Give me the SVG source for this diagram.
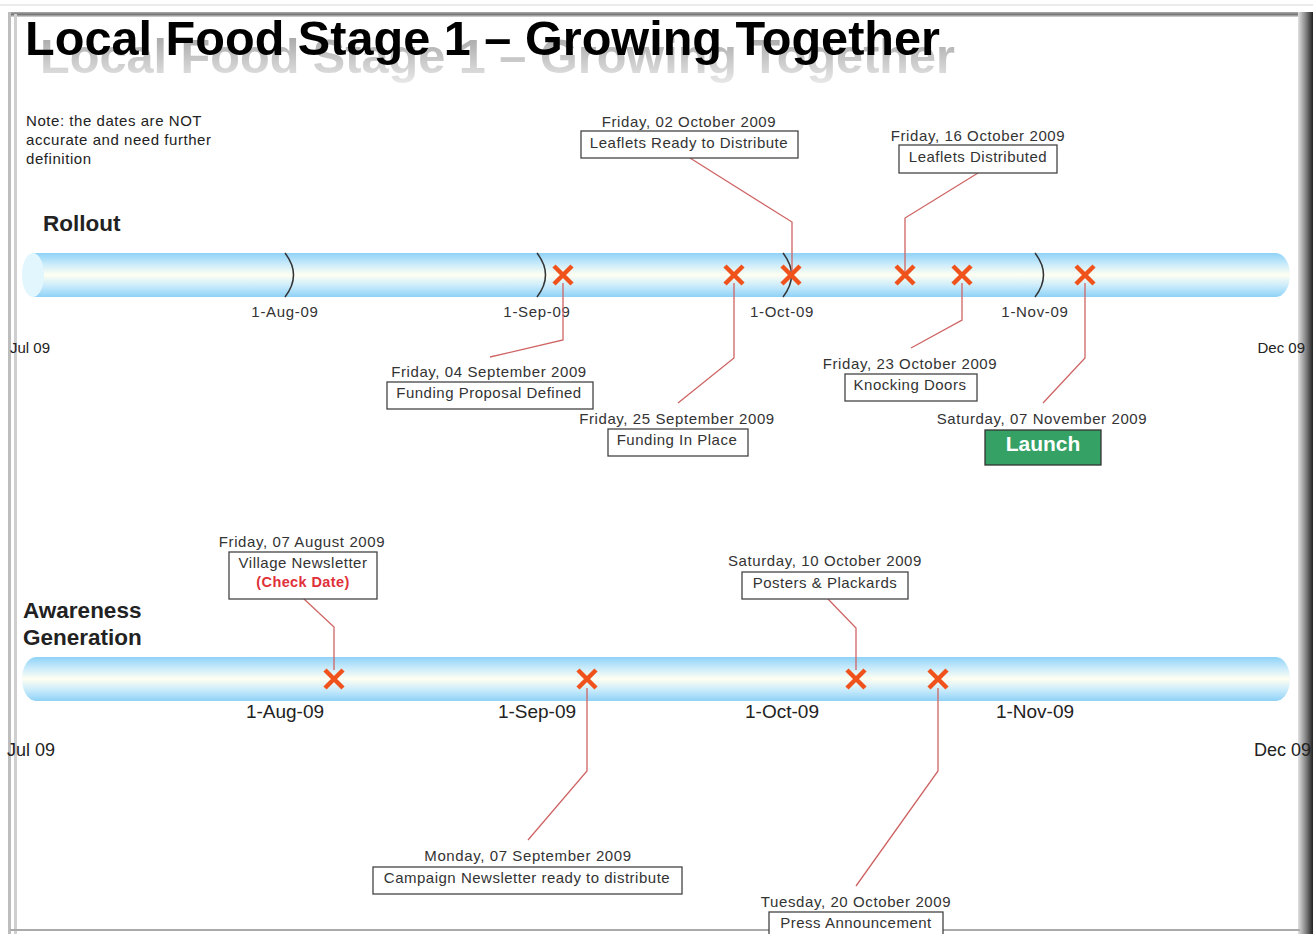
<svg xmlns="http://www.w3.org/2000/svg" width="1313" height="934" viewBox="0 0 1313 934">
<defs>
<linearGradient id="bar" x1="0" y1="0" x2="0" y2="1">
<stop offset="0" stop-color="#8fd2f7"/>
<stop offset="0.25" stop-color="#c9ebfb"/>
<stop offset="0.5" stop-color="#fffff2"/>
<stop offset="0.75" stop-color="#c9ebfb"/>
<stop offset="1" stop-color="#8fd2f7"/>
</linearGradient>
<linearGradient id="shadowTxt" x1="0" y1="0" x2="0" y2="1">
<stop offset="0" stop-color="#a0a0a0"/>
<stop offset="1" stop-color="#e8e8e8"/>
</linearGradient>
<linearGradient id="rightEdge" x1="0" y1="0" x2="1" y2="0">
<stop offset="0" stop-color="#e0e0e0"/>
<stop offset="0.5" stop-color="#888"/>
<stop offset="1" stop-color="#222"/>
</linearGradient>
<linearGradient id="topEdge" x1="0" y1="0" x2="0" y2="1">
<stop offset="0" stop-color="#aaa"/>
<stop offset="0.5" stop-color="#777"/>
<stop offset="1" stop-color="#ddd"/>
</linearGradient>
<g id="xmark">
<path d="M -9 -9 L 9 9 M 9 -9 L -9 9" stroke="#f0521c" stroke-width="4.5" stroke-linecap="butt" fill="none"/>
</g>
</defs>
<style>
text { font-family: "Liberation Sans", Arial, sans-serif; }
.date { font-size: 15px; letter-spacing: 0.6px; fill: #333; text-anchor: middle; }
.lbl { font-size: 15px; letter-spacing: 0.5px; fill: #333; text-anchor: middle; }
.box { fill: #fff; stroke: #444; stroke-width: 1.3; }
.conn { fill: none; stroke: #cf6464; stroke-width: 1.3; }
.tick { fill: none; stroke: #333; stroke-width: 1.5; }
.mlab { font-size: 15px; letter-spacing: 0.7px; fill: #333; text-anchor: middle; }
.mlab2 { font-size: 19px; fill: #222; text-anchor: middle; }
.head { font-size: 22.5px; font-weight: bold; fill: #222; }
.note { font-size: 15px; letter-spacing: 0.55px; fill: #222; }
</style>
<rect x="0" y="0" width="1313" height="934" fill="#fff"/>
<!-- frame -->
<g id="frame">
<line x1="0" y1="5" x2="1313" y2="5" stroke="#e4e4e4" stroke-width="1.5"/>
<rect x="10" y="12" width="1294" height="5" fill="url(#topEdge)"/>
<rect x="8" y="12" width="3" height="922" fill="#bdbdbd"/>
<rect x="14" y="14" width="3" height="920" fill="#cfcfcf"/>
<rect x="1298" y="12" width="15" height="922" fill="url(#rightEdge)"/>
<line x1="10" y1="930" x2="1300" y2="930" stroke="#aaa" stroke-width="2"/>
</g>
<!-- title -->
<g id="title">
<text x="40" y="73" font-size="48" font-weight="bold" fill="url(#shadowTxt)" textLength="915" lengthAdjust="spacingAndGlyphs">Local Food Stage 1 – Growing Together</text>
<text x="25" y="55" font-size="48" font-weight="bold" fill="#000" textLength="915" lengthAdjust="spacingAndGlyphs">Local Food Stage 1 – Growing Together</text>
</g>
<g id="note">
<text class="note" x="26" y="126">Note: the dates are NOT</text>
<text class="note" x="26" y="145">accurate and need further</text>
<text class="note" x="26" y="164">definition</text>
</g>
<!-- Rollout timeline -->
<g id="rollout">
<text class="head" x="43" y="231">Rollout</text>
<rect x="22" y="253" width="1268" height="44" rx="14" ry="22" fill="url(#bar)"/>
<ellipse cx="33" cy="275" rx="11" ry="22" fill="#e2f6fd"/>
<path class="tick" d="M 285 253 Q 302 275 285 297"/>
<path class="tick" d="M 537 253 Q 554 275 537 297"/>
<path class="tick" d="M 783 253 Q 800 275 783 297"/>
<path class="tick" d="M 1035 253 Q 1052 275 1035 297"/>
<text class="mlab" x="285" y="317">1-Aug-09</text>
<text class="mlab" x="537" y="317">1-Sep-09</text>
<text class="mlab" x="782" y="317">1-Oct-09</text>
<text class="mlab" x="1035" y="317">1-Nov-09</text>
<text x="10" y="353" font-size="15" fill="#222">Jul 09</text>
<text x="1305" y="353" font-size="15" fill="#222" text-anchor="end">Dec 09</text>
</g>
<!-- Awareness timeline -->
<g id="awareness">
<text class="head" x="23" y="618">Awareness</text>
<text class="head" x="23" y="645">Generation</text>
<rect x="22" y="657" width="1268" height="44" rx="14" ry="22" fill="url(#bar)"/>
<text class="mlab2" x="285" y="718">1-Aug-09</text>
<text class="mlab2" x="537" y="718">1-Sep-09</text>
<text class="mlab2" x="782" y="718">1-Oct-09</text>
<text class="mlab2" x="1035" y="718">1-Nov-09</text>
<text x="7" y="756" font-size="18" fill="#222">Jul 09</text>
<text x="1311" y="756" font-size="18" fill="#222" text-anchor="end">Dec 09</text>
</g>
<!-- connectors -->
<g id="connectors">
<polyline class="conn" points="690,158 792,222 792,275"/>
<polyline class="conn" points="978,173 905,218 905,275"/>
<polyline class="conn" points="563,283 563,340 490,357"/>
<polyline class="conn" points="734,283 734,358 678,403"/>
<polyline class="conn" points="962,283 962,320 911,348"/>
<polyline class="conn" points="1085,283 1085,358 1043,403"/>
<polyline class="conn" points="304,599 334,627 334,670"/>
<polyline class="conn" points="828,599 856,628 856,670"/>
<polyline class="conn" points="587,688 587,771 528,840"/>
<polyline class="conn" points="938,688 938,771 856,886"/>
</g>
<!-- markers -->
<g id="markers">
<use href="#xmark" x="563" y="275"/>
<use href="#xmark" x="734" y="275"/>
<use href="#xmark" x="791" y="275"/>
<use href="#xmark" x="905" y="275"/>
<use href="#xmark" x="962" y="275"/>
<use href="#xmark" x="1085" y="275"/>
<use href="#xmark" x="334" y="679"/>
<use href="#xmark" x="587" y="679"/>
<use href="#xmark" x="856" y="679"/>
<use href="#xmark" x="938" y="679"/>
</g>
<!-- callout nodes -->
<g id="n-leaflets-ready">
<text class="date" x="689" y="127">Friday, 02 October 2009</text>
<rect class="box" x="581" y="131" width="217" height="27"/>
<text class="lbl" x="689" y="148">Leaflets Ready to Distribute</text>
</g>
<g id="n-leaflets-distributed">
<text class="date" x="978" y="141">Friday, 16 October 2009</text>
<rect class="box" x="899" y="145" width="158" height="28"/>
<text class="lbl" x="978" y="162">Leaflets Distributed</text>
</g>
<g id="n-funding-proposal">
<text class="date" x="489" y="377">Friday, 04 September 2009</text>
<rect class="box" x="387" y="382" width="206" height="27"/>
<text class="lbl" x="489" y="398">Funding Proposal Defined</text>
</g>
<g id="n-funding-in-place">
<text class="date" x="677" y="424">Friday, 25 September 2009</text>
<rect class="box" x="608" y="429" width="140" height="27"/>
<text class="lbl" x="677" y="445">Funding In Place</text>
</g>
<g id="n-knocking-doors">
<text class="date" x="910" y="369">Friday, 23 October 2009</text>
<rect class="box" x="845" y="374" width="132" height="27"/>
<text class="lbl" x="910" y="390">Knocking Doors</text>
</g>
<g id="n-launch">
<text class="date" x="1042" y="424">Saturday, 07 November 2009</text>
<rect x="985" y="430" width="116" height="35" fill="#35a165" stroke="#333" stroke-width="1.3"/>
<text x="1043" y="451" font-size="21" font-weight="bold" fill="#fff" text-anchor="middle">Launch</text>
</g>
<g id="n-village-newsletter">
<text class="date" x="302" y="547">Friday, 07 August 2009</text>
<rect class="box" x="229" y="552" width="148" height="47"/>
<text class="lbl" x="303" y="568">Village Newsletter</text>
<text x="303" y="587" font-size="14.5" letter-spacing="0.4" font-weight="bold" fill="#e0313a" text-anchor="middle">(Check Date)</text>
</g>
<g id="n-posters">
<text class="date" x="825" y="566">Saturday, 10 October 2009</text>
<rect class="box" x="742" y="572" width="166" height="27"/>
<text class="lbl" x="825" y="588">Posters &amp; Plackards</text>
</g>
<g id="n-campaign-newsletter">
<text class="date" x="528" y="861">Monday, 07 September 2009</text>
<rect class="box" x="373" y="867" width="309" height="27"/>
<text class="lbl" x="527" y="883">Campaign Newsletter ready to distribute</text>
</g>
<g id="n-press">
<text class="date" x="856" y="907">Tuesday, 20 October 2009</text>
<rect class="box" x="769" y="912" width="174" height="30"/>
<text class="lbl" x="856" y="928">Press Announcement</text>
</g>
</svg>
